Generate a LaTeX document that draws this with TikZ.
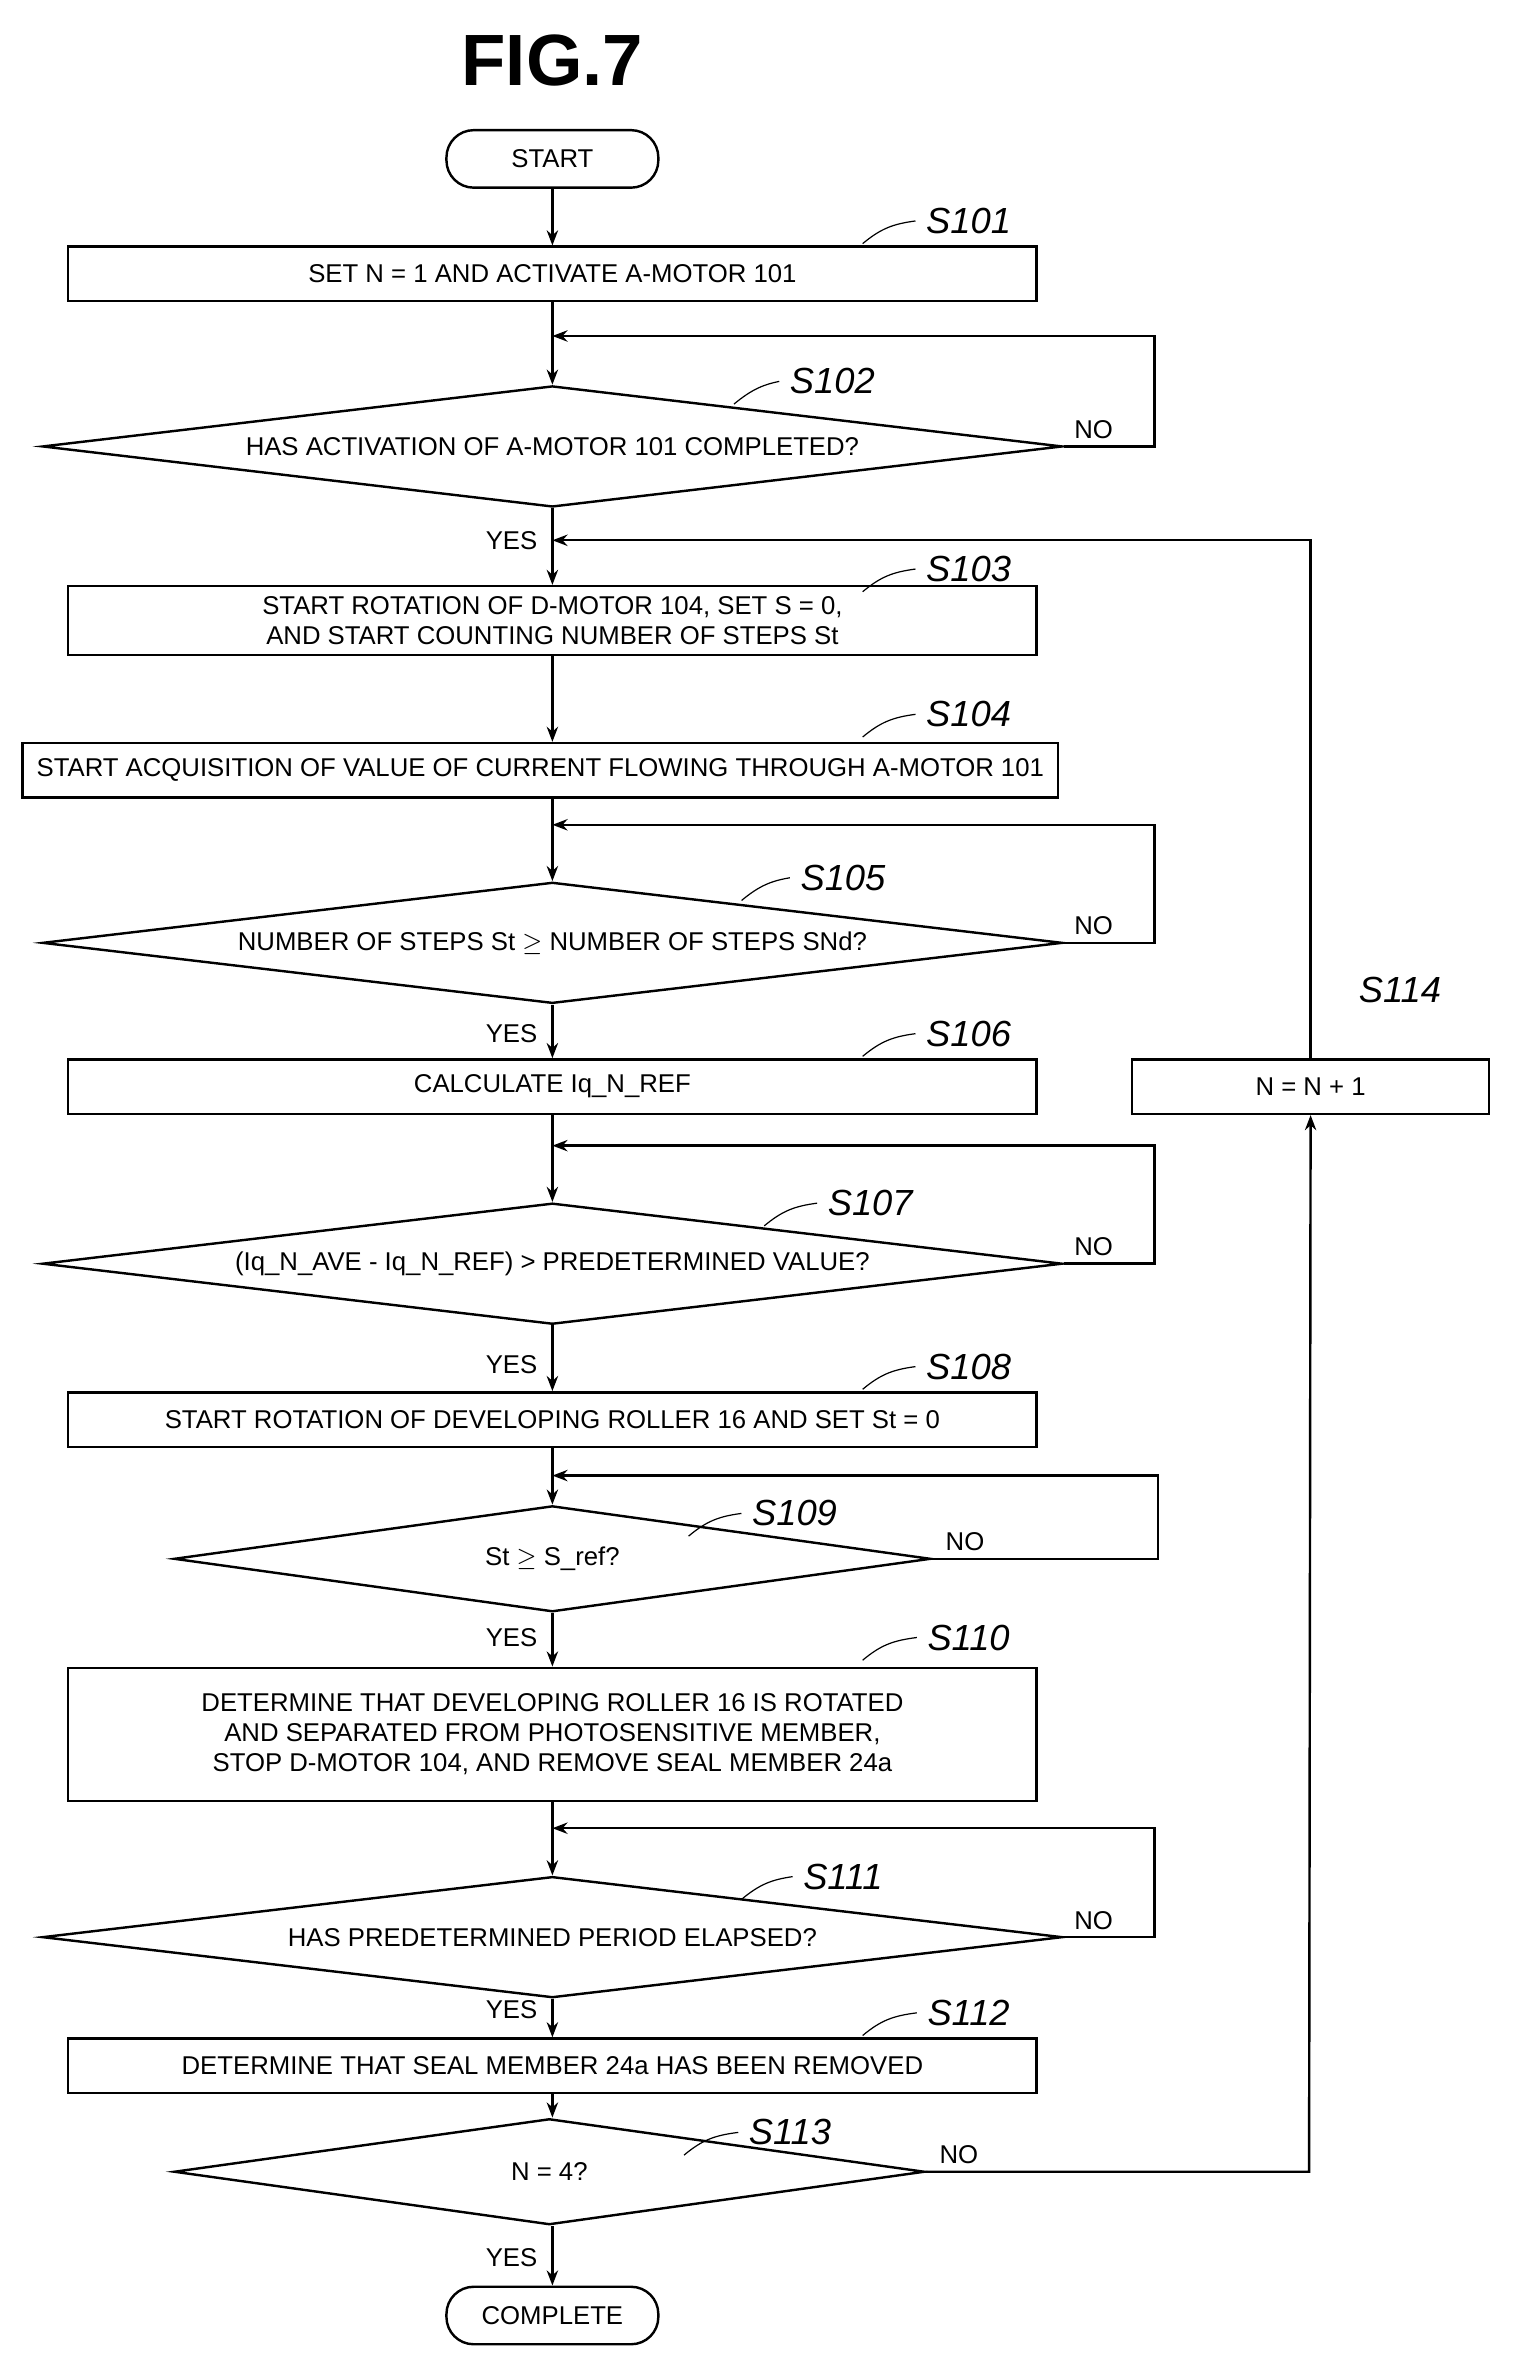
\documentclass[tikz,border=0pt]{standalone}
\usepackage{fontspec}
\setmainfont{Liberation Sans}
\usetikzlibrary{shapes.geometric,calc,arrows.meta}
\tikzset{
  box/.style={draw,thick,minimum height=18pt,align=center,font=\fontsize{8.5}{10}\selectfont},
  dec/.style={draw,thick,diamond,aspect=8.5,inner sep=0pt,font=\fontsize{8.5}{10}\selectfont},
  term/.style={draw,thick,rounded corners=9pt,minimum width=70pt,minimum height=19pt,font=\fontsize{8.5}{10}\selectfont},
  steplbl/.style={font=\fontsize{12}{12}\selectfont\itshape},
  yn/.style={font=\fontsize{8.5}{9}\selectfont},
  flow/.style={thick,-{Stealth[length=5pt]}},
  line/.style={thick}
}
\begin{document}
\begin{tikzpicture}[x=0.5pt,y=-0.5pt]
\useasboundingbox (0,0) rectangle (1000,1568);
\node[font=\fontsize{24}{24}\selectfont\bfseries] (title) at (365,40) {FIG.7};
%START
\node[term] (start) at (365,105) {START};
\node[box,minimum width=320pt] (s101) at (365,181) {SET N = 1 AND ACTIVATE A-MOTOR 101};
\node[dec,minimum width=337pt,minimum height=40pt] (s102) at (365,295) {HAS ACTIVATION OF A-MOTOR 101 COMPLETED?};
\node[box,minimum width=320pt] (s103) at (365,410) {START ROTATION OF D-MOTOR 104, SET S = 0,\\AND START COUNTING NUMBER OF STEPS St};
\node[box,minimum width=342pt] (s104) at (357,509) {START ACQUISITION OF VALUE OF CURRENT FLOWING THROUGH A-MOTOR 101};
\node[dec,minimum width=337pt,minimum height=40pt] (s105) at (365,623) {NUMBER OF STEPS St $\geq$ NUMBER OF STEPS SNd?};
\node[box,minimum width=320pt] (s106) at (365,718) {CALCULATE Iq\_N\_REF};
\node[box,minimum width=118pt] (s114) at (866,718) {N = N + 1};
\node[dec,minimum width=337pt,minimum height=40pt] (s107) at (365,835) {(Iq\_N\_AVE - Iq\_N\_REF) > PREDETERMINED VALUE?};
\node[box,minimum width=320pt] (s108) at (365,938) {START ROTATION OF DEVELOPING ROLLER 16 AND SET St = 0};
\node[dec,minimum width=250pt,minimum height=35pt] (s109) at (365,1030) {St $\geq$ S\_ref?};
\node[box,minimum width=320pt,minimum height=44pt] (s110) at (365,1146) {DETERMINE THAT DEVELOPING ROLLER 16 IS ROTATED\\AND SEPARATED FROM PHOTOSENSITIVE MEMBER,\\STOP D-MOTOR 104, AND REMOVE SEAL MEMBER 24a};
\node[dec,minimum width=337pt,minimum height=40pt] (s111) at (365,1280) {HAS PREDETERMINED PERIOD ELAPSED?};
\node[box,minimum width=320pt] (s112) at (365,1365) {DETERMINE THAT SEAL MEMBER 24a HAS BEEN REMOVED};
\node[dec,minimum width=248pt,minimum height=35pt] (s113) at (363,1435) {N = 4?};
\node[term] (done) at (365,1530) {COMPLETE};
%main flow
\coordinate (j102) at (365,222);
\coordinate (j103) at (365,357);
\coordinate (j105) at (365,545);
\coordinate (j107) at (365,757);
\coordinate (j109) at (365,975);
\coordinate (j111) at (365,1208);
\draw[flow] (start) -- (s101);
\draw[line] (s101) -- (j102); \draw[flow] (j102) -- (s102);
\draw[line] (s102) -- (j103); \draw[flow] (j103) -- (s103);
\draw[flow] (s103) -- (s104.north -| s103);
\draw[line] (s104.south -| j105) -- (j105); \draw[flow] (j105) -- (s105);
\draw[flow] (s105) -- (s106);
\draw[line] (s106) -- (j107); \draw[flow] (j107) -- (s107);
\draw[flow] (s107) -- (s108);
\draw[line] (s108) -- (j109); \draw[flow] (j109) -- (s109);
\draw[flow] (s109) -- (s110);
\draw[line] (s110) -- (j111); \draw[flow] (j111) -- (s111);
\draw[flow] (s111) -- (s112);
\draw[flow] (s112) -- (s113.north -| s112);
\draw[flow] (s113.south -| done) -- (done);
%NO loops
\draw[flow] (s102.east) -- ++(60,0) |- (j102);
\draw[flow] (s105.east) -- ++(60,0) |- (j105);
\draw[flow] (s107.east) -- ++(60,0) |- (j107);
\draw[flow] (s109.east) -- (765,1030) |- (j109);
\draw[flow] (s111.east) -- ++(60,0) |- (j111);
\draw[flow] (s113.east) -- (865,1435) -- (s114.south);
\draw[flow] (s114.north) |- (j103);
%YES / NO
\foreach \n/\y in {s102/357,s105/683,s107/902,s109/1082,s111/1328,s113/1492}
  \node[yn] at (338,\y) {YES};
\foreach \n in {s102,s105,s107,s111}
  \node[yn,above right] at ($(\n.east)+(0,2)$) {NO};
\node[yn,above right] at ($(s109.east)+(2,2)$) {NO};
\node[yn,above right] at ($(s113.east)+(2,2)$) {NO};
%step labels
\foreach \n/\t/\lx/\ly/\px in {s101/S101/640/146/570,s102/S102/550/252/485,s103/S103/640/376/570,
  s104/S104/640/472/570,s105/S105/557/580/490,s106/S106/640/683/570,s107/S107/575/795/505,
  s108/S108/640/903/570,s109/S109/525/1000/455,s110/S110/640/1082/570,s111/S111/557/1240/490,
  s112/S112/640/1330/570,s113/S113/522/1409/452}{
  \node[steplbl] (l\n) at (\lx,\ly) {\t};
  \draw (\px,\ly+15) .. controls (\px+12,\ly+5) and (\px+20,\ly+2) .. (l\n.west);
}
\node[steplbl] (ls114) at (925,654) {S114};
\end{tikzpicture}
\end{document}
